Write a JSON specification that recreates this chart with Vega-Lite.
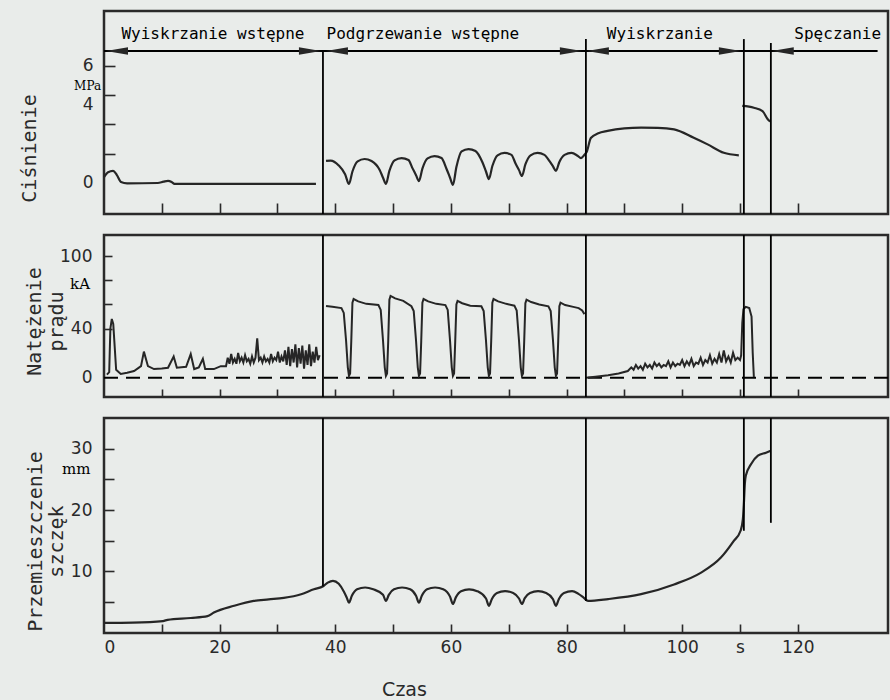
{
  "$schema": "https://vega.github.io/schema/vega-lite/v6.json",
  "background": "#e9ecea",
  "padding": {"left": 17, "top": 9, "right": 2, "bottom": 0},
  "spacing": 21,
  "bounds": "flush",
  "config": {
    "view": {"stroke": "#2a2a2a", "strokeWidth": 2.5},
    "mark": {"color": "#262626"},
    "axis": {
      "domain": false, "grid": false,
      "tickColor": "#2a2a2a", "tickWidth": 1.6,
      "labelColor": "#2a2a2a", "labelFont": "DejaVu Sans", "labelFontSize": 17,
      "titleColor": "#2a2a2a", "titleFont": "DejaVu Sans Mono", "titleFontSize": 20, "titleFontWeight": "normal"
    }
  },
  "datasets": {
    "p": [
      {"s":1,"t":0,"v":0.3},{"s":1,"t":0.7,"v":0.55},{"s":1,"t":1.56,"v":0.62},{"s":1,"t":2.2,"v":0.42},{"s":1,"t":2.94,"v":0.05},{"s":1,"t":4,"v":-0.02},{"s":1,"t":9.3,"v":0},{"s":1,"t":10.3,"v":0.07},{"s":1,"t":11.07,"v":0.11},{"s":1,"t":11.7,"v":0.05},{"s":1,"t":12.2,"v":-0.05},{"s":1,"t":36.66,"v":-0.05},
      {"s":2,"t":38.4,"v":1.13},{"s":2,"t":39.2,"v":1.15},{"s":2,"t":40.6,"v":0.9},{"s":2,"t":41.7,"v":0.45},{"s":2,"t":42.37,"v":-0.05},
      {"s":2,"t":42.97,"v":0.59},{"s":2,"t":43.87,"v":1.11},{"s":2,"t":45.07,"v":1.23},{"s":2,"t":46.27,"v":1.13},{"s":2,"t":47.66,"v":0.68},{"s":2,"t":48.26,"v":0.27},{"s":2,"t":48.76,"v":-0.05},
      {"s":2,"t":49.36,"v":0.62},{"s":2,"t":50.26,"v":1.16},{"s":2,"t":51.46,"v":1.28},{"s":2,"t":52.66,"v":1.18},{"s":2,"t":53.37,"v":0.75},{"s":2,"t":53.97,"v":0.4},{"s":2,"t":54.47,"v":0.1},
      {"s":2,"t":55.07,"v":0.74},{"s":2,"t":55.97,"v":1.26},{"s":2,"t":57.17,"v":1.38},{"s":2,"t":58.37,"v":1.28},{"s":2,"t":59.25,"v":0.72},{"s":2,"t":59.85,"v":0.27},{"s":2,"t":60.35,"v":-0.1},
      {"s":2,"t":60.95,"v":0.82},{"s":2,"t":61.85,"v":1.62},{"s":2,"t":63.05,"v":1.74},{"s":2,"t":64.25,"v":1.64},{"s":2,"t":65.47,"v":1.05},{"s":2,"t":66.07,"v":0.59},{"s":2,"t":66.57,"v":0.2},
      {"s":2,"t":67.17,"v":0.87},{"s":2,"t":68.07,"v":1.42},{"s":2,"t":69.27,"v":1.54},{"s":2,"t":70.47,"v":1.44},{"s":2,"t":71.18,"v":1.0},{"s":2,"t":71.78,"v":0.66},{"s":2,"t":72.28,"v":0.36},
      {"s":2,"t":72.88,"v":0.95},{"s":2,"t":73.78,"v":1.42},{"s":2,"t":74.98,"v":1.54},{"s":2,"t":76.18,"v":1.44},{"s":2,"t":77.06,"v":1.12},{"s":2,"t":77.66,"v":0.85},{"s":2,"t":78.16,"v":0.62},
      {"s":2,"t":78.76,"v":1.08},{"s":2,"t":79.66,"v":1.44},{"s":2,"t":80.86,"v":1.54},{"s":2,"t":81.9,"v":1.4},{"s":2,"t":82.5,"v":1.28},{"s":2,"t":83.1,"v":1.45},{"s":2,"t":83.5,"v":1.6},
      {"s":2,"t":84.2,"v":2.31},{"s":2,"t":85.5,"v":2.55},{"s":2,"t":87.1,"v":2.67},{"s":2,"t":90.0,"v":2.8},{"s":2,"t":92.9,"v":2.84},{"s":2,"t":95.8,"v":2.83},{"s":2,"t":98.6,"v":2.75},{"s":2,"t":102.0,"v":2.32},{"s":2,"t":104.4,"v":1.98},{"s":2,"t":107.2,"v":1.55},{"s":2,"t":109.8,"v":1.42},
      {"s":4,"t":110.4,"v":3.95},{"s":4,"t":112.4,"v":3.86},{"s":4,"t":113.9,"v":3.69},{"s":4,"t":114.8,"v":3.27},{"s":4,"t":115.2,"v":3.15}
    ],
    "i": [
      {"s":1,"t":0.5,"v":2},{"s":1,"t":0.9,"v":4},{"s":1,"t":1.1,"v":40},{"s":1,"t":1.35,"v":48},{"s":1,"t":1.6,"v":44},{"s":1,"t":1.85,"v":25},{"s":1,"t":2.1,"v":6},{"s":1,"t":2.9,"v":2.5},{"s":1,"t":4.0,"v":3.5},{"s":1,"t":5.2,"v":5},{"s":1,"t":6.4,"v":9},{"s":1,"t":6.9,"v":21},{"s":1,"t":7.6,"v":9},{"s":1,"t":8.65,"v":6.6},{"s":1,"t":10.0,"v":7},{"s":1,"t":11.07,"v":7.7},{"s":1,"t":12.05,"v":17},{"s":1,"t":12.6,"v":7.7},{"s":1,"t":14.2,"v":8.5},{"s":1,"t":15.0,"v":19},{"s":1,"t":15.6,"v":6.6},{"s":1,"t":16.4,"v":8},{"s":1,"t":17.1,"v":15},{"s":1,"t":17.5,"v":6.6},{"s":1,"t":19.0,"v":6.6},{"s":1,"t":20.2,"v":9},
      {"s":1,"t":21.1,"v":9},{"s":1,"t":21.4,"v":16},{"s":1,"t":21.7,"v":11},{"s":1,"t":22.0,"v":19},{"s":1,"t":22.3,"v":12},{"s":1,"t":22.6,"v":15},{"s":1,"t":22.9,"v":11},{"s":1,"t":23.2,"v":20},{"s":1,"t":23.5,"v":13},{"s":1,"t":23.8,"v":16},{"s":1,"t":24.1,"v":12},{"s":1,"t":24.4,"v":18},{"s":1,"t":24.7,"v":13},{"s":1,"t":25.0,"v":15},{"s":1,"t":25.3,"v":11},{"s":1,"t":25.6,"v":17},{"s":1,"t":25.9,"v":12},{"s":1,"t":26.2,"v":16},{"s":1,"t":26.5,"v":32},{"s":1,"t":26.8,"v":14},{"s":1,"t":27.1,"v":16},{"s":1,"t":27.4,"v":12},{"s":1,"t":27.7,"v":17},{"s":1,"t":28.0,"v":13},{"s":1,"t":28.3,"v":15},{"s":1,"t":28.6,"v":12},{"s":1,"t":28.9,"v":19},{"s":1,"t":29.2,"v":13},{"s":1,"t":29.5,"v":16},{"s":1,"t":29.8,"v":14},{"s":1,"t":30.1,"v":21},{"s":1,"t":30.4,"v":12},{"s":1,"t":30.7,"v":17},{"s":1,"t":31.0,"v":13},{"s":1,"t":31.3,"v":22},{"s":1,"t":31.6,"v":10},{"s":1,"t":31.9,"v":25},{"s":1,"t":32.2,"v":9},{"s":1,"t":32.5,"v":23},{"s":1,"t":32.8,"v":12},{"s":1,"t":33.1,"v":27},{"s":1,"t":33.4,"v":8},{"s":1,"t":33.7,"v":24},{"s":1,"t":34.0,"v":11},{"s":1,"t":34.3,"v":26},{"s":1,"t":34.6,"v":7},{"s":1,"t":34.9,"v":22},{"s":1,"t":35.2,"v":10},{"s":1,"t":35.5,"v":27},{"s":1,"t":35.8,"v":9},{"s":1,"t":36.1,"v":21},{"s":1,"t":36.4,"v":12},{"s":1,"t":36.7,"v":25},{"s":1,"t":37.0,"v":14},{"s":1,"t":37.3,"v":18},
      {"s":2,"t":38.4,"v":58.7},{"s":2,"t":39.5,"v":58},
      {"s":2,"t":41.07,"v":57},{"s":2,"t":41.47,"v":53},{"s":2,"t":41.87,"v":30},{"s":2,"t":42.17,"v":8},{"s":2,"t":42.37,"v":1},{"s":2,"t":42.57,"v":3},{"s":2,"t":42.77,"v":30},{"s":2,"t":42.97,"v":61.5},{"s":2,"t":43.17,"v":64.5},{"s":2,"t":43.97,"v":62.5},{"s":2,"t":45.37,"v":60.5},
      {"s":2,"t":47.46,"v":59.5},{"s":2,"t":47.86,"v":55.5},{"s":2,"t":48.26,"v":30},{"s":2,"t":48.56,"v":8},{"s":2,"t":48.76,"v":1},{"s":2,"t":48.96,"v":3},{"s":2,"t":49.16,"v":30},{"s":2,"t":49.36,"v":64},{"s":2,"t":49.56,"v":67},{"s":2,"t":50.36,"v":65},{"s":2,"t":51.76,"v":63},
      {"s":2,"t":53.17,"v":58.5},{"s":2,"t":53.57,"v":54.5},{"s":2,"t":53.97,"v":30},{"s":2,"t":54.27,"v":8},{"s":2,"t":54.47,"v":1},{"s":2,"t":54.67,"v":3},{"s":2,"t":54.87,"v":30},{"s":2,"t":55.07,"v":61.5},{"s":2,"t":55.27,"v":64.5},{"s":2,"t":56.07,"v":62.5},{"s":2,"t":57.47,"v":60.5},
      {"s":2,"t":59.05,"v":59.5},{"s":2,"t":59.45,"v":55.5},{"s":2,"t":59.85,"v":30},{"s":2,"t":60.15,"v":8},{"s":2,"t":60.35,"v":1},{"s":2,"t":60.55,"v":3},{"s":2,"t":60.75,"v":30},{"s":2,"t":60.95,"v":60},{"s":2,"t":61.15,"v":63},{"s":2,"t":61.95,"v":61},{"s":2,"t":63.35,"v":59},
      {"s":2,"t":65.27,"v":58.5},{"s":2,"t":65.67,"v":54.5},{"s":2,"t":66.07,"v":30},{"s":2,"t":66.37,"v":8},{"s":2,"t":66.57,"v":1},{"s":2,"t":66.77,"v":3},{"s":2,"t":66.97,"v":30},{"s":2,"t":67.17,"v":61.5},{"s":2,"t":67.37,"v":64.5},{"s":2,"t":68.17,"v":62.5},{"s":2,"t":69.57,"v":60.5},
      {"s":2,"t":70.98,"v":59},{"s":2,"t":71.38,"v":55},{"s":2,"t":71.78,"v":30},{"s":2,"t":72.08,"v":8},{"s":2,"t":72.28,"v":1},{"s":2,"t":72.48,"v":3},{"s":2,"t":72.68,"v":30},{"s":2,"t":72.88,"v":61},{"s":2,"t":73.08,"v":64},{"s":2,"t":73.88,"v":62},{"s":2,"t":75.28,"v":60},
      {"s":2,"t":76.86,"v":58.5},{"s":2,"t":77.26,"v":54.5},{"s":2,"t":77.66,"v":30},{"s":2,"t":77.96,"v":8},{"s":2,"t":78.16,"v":1},{"s":2,"t":78.36,"v":3},{"s":2,"t":78.56,"v":30},{"s":2,"t":78.76,"v":58.5},{"s":2,"t":78.96,"v":61.5},{"s":2,"t":79.76,"v":59.5},{"s":2,"t":81.16,"v":58},
      {"s":2,"t":82.1,"v":57},{"s":2,"t":82.7,"v":55},{"s":2,"t":83.1,"v":52},
      {"s":3,"t":83.35,"v":-0.5},{"s":3,"t":85,"v":0.3},{"s":3,"t":87.2,"v":1.5},{"s":3,"t":89,"v":3},{"s":3,"t":90.6,"v":5},{"s":3,"t":91.2,"v":8},{"s":3,"t":91.6,"v":6},{"s":3,"t":92.0,"v":10},{"s":3,"t":92.4,"v":7},{"s":3,"t":92.8,"v":9},{"s":3,"t":93.2,"v":6},{"s":3,"t":93.6,"v":11},{"s":3,"t":94.0,"v":8},{"s":3,"t":94.4,"v":10},{"s":3,"t":94.8,"v":7},{"s":3,"t":95.2,"v":12},{"s":3,"t":95.6,"v":9},{"s":3,"t":96.0,"v":11},{"s":3,"t":96.4,"v":8},{"s":3,"t":96.8,"v":10},{"s":3,"t":97.2,"v":9},{"s":3,"t":97.6,"v":13},{"s":3,"t":98.0,"v":8},{"s":3,"t":98.4,"v":12},{"s":3,"t":98.8,"v":9},{"s":3,"t":99.2,"v":11},{"s":3,"t":99.6,"v":10},{"s":3,"t":100.0,"v":14},{"s":3,"t":100.4,"v":9},{"s":3,"t":100.8,"v":13},{"s":3,"t":101.2,"v":10},{"s":3,"t":101.6,"v":15},{"s":3,"t":102.0,"v":9},{"s":3,"t":102.4,"v":12},{"s":3,"t":102.8,"v":11},{"s":3,"t":103.2,"v":16},{"s":3,"t":103.6,"v":10},{"s":3,"t":104.0,"v":14},{"s":3,"t":104.4,"v":12},{"s":3,"t":104.8,"v":18},{"s":3,"t":105.2,"v":11},{"s":3,"t":105.6,"v":15},{"s":3,"t":106.0,"v":12},{"s":3,"t":106.4,"v":19},{"s":3,"t":106.8,"v":12},{"s":3,"t":107.2,"v":22},{"s":3,"t":107.6,"v":13},{"s":3,"t":108.0,"v":17},{"s":3,"t":108.4,"v":12},{"s":3,"t":108.8,"v":20},{"s":3,"t":109.2,"v":14},{"s":3,"t":109.6,"v":16},{"s":3,"t":110.0,"v":14},{"s":3,"t":110.2,"v":18},{"s":3,"t":110.4,"v":45},{"s":3,"t":110.6,"v":56},{"s":3,"t":111.0,"v":58},{"s":3,"t":111.6,"v":57},{"s":3,"t":112.0,"v":50},{"s":3,"t":112.2,"v":20},{"s":3,"t":112.4,"v":0}
    ],
    "d": [
      {"t":0,"v":1.5},{"t":5,"v":1.55},{"t":10.2,"v":1.8},{"t":11.0,"v":2.0},{"t":15,"v":2.3},{"t":17.9,"v":2.6},{"t":19.0,"v":3.2},{"t":22.5,"v":4.3},{"t":25.9,"v":5.1},{"t":28.5,"v":5.35},{"t":31.1,"v":5.6},{"t":34.1,"v":6.2},{"t":36.3,"v":7.0},{"t":37.9,"v":7.5},{"t":38.7,"v":8.1},{"t":39.6,"v":8.4},{"t":40.6,"v":7.9},{"t":41.5,"v":6.6},{"t":42.0,"v":5.6},{"t":42.37,"v":4.8},
      {"t":42.87,"v":5.93},{"t":43.77,"v":7.0},{"t":45.17,"v":7.3},{"t":46.57,"v":7.0},{"t":48.26,"v":6.1},{"t":48.76,"v":5.1},
      {"t":49.26,"v":6.09},{"t":50.16,"v":7.0},{"t":51.56,"v":7.3},{"t":52.96,"v":7.0},{"t":53.97,"v":5.93},{"t":54.47,"v":4.8},
      {"t":54.97,"v":5.93},{"t":55.87,"v":7.0},{"t":57.27,"v":7.3},{"t":58.67,"v":7.0},{"t":59.85,"v":5.8},{"t":60.35,"v":4.6},
      {"t":60.85,"v":5.68},{"t":61.75,"v":6.7},{"t":63.15,"v":7.0},{"t":64.55,"v":6.7},{"t":66.07,"v":5.5},{"t":66.57,"v":4.3},
      {"t":67.07,"v":5.38},{"t":67.97,"v":6.4},{"t":69.37,"v":6.7},{"t":70.77,"v":6.4},{"t":71.78,"v":5.5},{"t":72.28,"v":4.6},
      {"t":72.78,"v":5.55},{"t":73.68,"v":6.4},{"t":75.08,"v":6.7},{"t":76.48,"v":6.4},{"t":77.66,"v":5.38},{"t":78.16,"v":4.3},
      {"t":78.66,"v":5.38},{"t":79.56,"v":6.4},{"t":80.96,"v":6.7},{"t":82.0,"v":6.3},{"t":83.0,"v":5.6},{"t":83.7,"v":5.1},
      {"t":87.2,"v":5.4},{"t":92.9,"v":6.2},{"t":98.6,"v":7.8},{"t":103.2,"v":9.7},{"t":106.7,"v":12.2},{"t":108.9,"v":14.9},{"t":110.1,"v":16.6},{"t":110.5,"v":18.5},{"t":110.67,"v":21},{"t":110.84,"v":24.3},{"t":111.0,"v":25.6},{"t":111.9,"v":27.5},{"t":113.1,"v":28.9},{"t":114.5,"v":29.4},{"t":115.3,"v":29.7}
    ],
    "r1": [{"t":37.87,"v":-1.59,"v2":6.77},{"t":83.35,"v":-1.59,"v2":7.38},{"t":110.67,"v":-1.59,"v2":7.38},{"t":115.34,"v":-1.59,"v2":7.18}],
    "r2": [{"t":37.87,"v":-16.5,"v2":117.4},{"t":83.35,"v":-16.5,"v2":117.4},{"t":110.67,"v":-16.5,"v2":117.4},{"t":115.34,"v":-16.5,"v2":117.4}],
    "r3": [{"t":37.87,"v":7.5,"v2":35.08},{"t":83.35,"v":5.1,"v2":35.08},{"t":110.67,"v":16.6,"v2":35.08},{"t":115.34,"v":17.9,"v2":35.08}],
    "hl": [{"t":0,"t2":133.8,"v":6.77}],
    "zl": [{"t":0,"t2":135.6,"v":-0.5}],
    "arr": [{"t":35.62,"v":6.77,"dir":"R"},{"t":80.75,"v":6.77,"dir":"R"},{"t":108.25,"v":6.77,"dir":"R"},{"t":2.25,"v":6.77,"dir":"L"},{"t":40.29,"v":6.77,"dir":"L"},{"t":85.42,"v":6.77,"dir":"L"},{"t":117.4,"v":6.77,"dir":"L"}],
    "hdr": [{"t":18.85,"v":7.64,"label":"Wyiskrzanie wstępne"},{"t":55.16,"v":7.64,"label":"Podgrzewanie wstępne"},{"t":96.14,"v":7.64,"label":"Wyiskrzanie"},{"t":126.9,"v":7.64,"label":"Spęczanie"}],
    "u1": [{"t":-0.5,"v":4.98,"label":"MPa"}],
    "u2": [{"t":-4.15,"v":76.9,"label":"kA"}],
    "u3": [{"t":-4.8,"v":26.7,"label":"mm"}]
  },
  "vconcat": [
    {
      "width": 784, "height": 203,
      "encoding": {
        "x": {"field":"t","type":"quantitative","scale":{"domain":[0,135.6],"nice":false,"zero":false},
              "axis":{"values":[10,20,30,40,50,60,70,80,90,100,110,120],"labels":false,"title":null,"tickSize":-11}},
        "y": {"field":"v","type":"quantitative","scale":{"domain":[-1.59,8.82],"nice":false,"zero":false},
              "axis":{"values":[0,1.5,3,4,4.5,6],"labelExpr":"(datum.value==0||datum.value==4||datum.value==6) ? ''+datum.value : ''",
                      "tickOpacity":{"condition":{"test":"datum.value==0||datum.value==4","value":0},"value":1},
                      "tickSize":-11,"labelPadding":22,"title":"Ciśnienie","titleX":-75,"titleY":137,"titleAngle":270,"titleBaseline":"middle","titleAlign":"center"}}
      },
      "layer": [
        {"data":{"name":"p"},"mark":{"type":"line","interpolate":"monotone","strokeWidth":2.2},"encoding":{"detail":{"field":"s"}}},
        {"data":{"name":"r1"},"mark":{"type":"rule","strokeWidth":1.8},"encoding":{"y2":{"field":"v2"}}},
        {"data":{"name":"hl"},"mark":{"type":"rule","strokeWidth":2},"encoding":{"x2":{"field":"t2"}}},
        {"data":{"name":"arr"},"transform":[{"filter":"datum.dir=='R'"}],"mark":{"type":"point","shape":"M1,0L-1,-0.35L-1,0.35Z","filled":true,"size":484,"opacity":1,"strokeWidth":0}},
        {"data":{"name":"arr"},"transform":[{"filter":"datum.dir=='L'"}],"mark":{"type":"point","shape":"M-1,0L1,-0.35L1,0.35Z","filled":true,"size":484,"opacity":1,"strokeWidth":0}},
        {"data":{"name":"hdr"},"mark":{"type":"text","font":"DejaVu Sans Mono","fontSize":16,"baseline":"middle","align":"center"},"encoding":{"text":{"field":"label"}}},
        {"data":{"name":"u1"},"mark":{"type":"text","font":"DejaVu Serif","fontSize":12,"baseline":"middle","align":"right"},"encoding":{"text":{"field":"label"}}}
      ]
    },
    {
      "width": 784, "height": 162,
      "encoding": {
        "x": {"field":"t","type":"quantitative","scale":{"domain":[0,135.6],"nice":false,"zero":false},
              "axis":{"values":[10,20,30,40,50,60,70,80,90,100,110,120],"labels":false,"title":null,"tickSize":-8}},
        "y": {"field":"v","type":"quantitative","scale":{"domain":[-16.5,117.4],"nice":false,"zero":false},
              "axis":{"values":[0,40,60,80,100],"labelExpr":"(datum.value==0||datum.value==40||datum.value==100) ? ''+datum.value : ''",
                      "tickOpacity":{"condition":{"test":"datum.value==0","value":0},"value":1},
                      "tickSize":-8,"labelPadding":20,"title":["Natężenie","prądu"],"titleLineHeight":22,"titleX":-69.5,"titleY":86,"titleAngle":270,"titleBaseline":"middle","titleAlign":"center"}}
      },
      "layer": [
        {"data":{"name":"zl"},"mark":{"type":"rule","strokeWidth":2,"strokeDash":[14,8]},"encoding":{"x2":{"field":"t2"}}},
        {"data":{"name":"i"},"mark":{"type":"line","strokeWidth":2},"encoding":{"detail":{"field":"s"}}},
        {"data":{"name":"r2"},"mark":{"type":"rule","strokeWidth":1.8},"encoding":{"y2":{"field":"v2"}}},
        {"data":{"name":"u2"},"mark":{"type":"text","font":"DejaVu Serif","fontSize":15,"baseline":"middle","align":"center"},"encoding":{"text":{"field":"label"}}}
      ]
    },
    {
      "width": 784, "height": 215,
      "encoding": {
        "x": {"field":"t","type":"quantitative","scale":{"domain":[0,135.6],"nice":false,"zero":false},
              "axis":{"values":[0,10,20,30,40,50,60,70,80,90,100,110,120],
                      "labelExpr":"datum.value==110 ? 's' : (datum.value % 20 == 0 ? ''+datum.value : '')",
                      "tickOpacity":{"condition":{"test":"datum.value==0","value":0},"value":1},
                      "tickSize":-9,"labelPadding":15,"title":"Czas","titleFont":"DejaVu Sans","titleFontSize":19,"titleX":300,"titleY":56,"titleBaseline":"middle","titleAlign":"center"}},
        "y": {"field":"v","type":"quantitative","scale":{"domain":[-0.16,35.08],"nice":false,"zero":false},
              "axis":{"values":[5,10,15,20,25,30],"labelExpr":"(datum.value==10||datum.value==20||datum.value==30) ? ''+datum.value : ''",
                      "tickSize":-10,"labelPadding":22,"title":["Przemieszczenie","szczęk"],"titleLineHeight":21,"titleX":-68.5,"titleY":123,"titleAngle":270,"titleBaseline":"middle","titleAlign":"center"}}
      },
      "layer": [
        {"data":{"name":"d"},"mark":{"type":"line","interpolate":"monotone","strokeWidth":2.2}},
        {"data":{"name":"r3"},"mark":{"type":"rule","strokeWidth":1.8},"encoding":{"y2":{"field":"v2"}}},
        {"data":{"name":"u3"},"mark":{"type":"text","font":"DejaVu Serif","fontSize":15,"baseline":"middle","align":"center"},"encoding":{"text":{"field":"label"}}}
      ]
    }
  ]
}
